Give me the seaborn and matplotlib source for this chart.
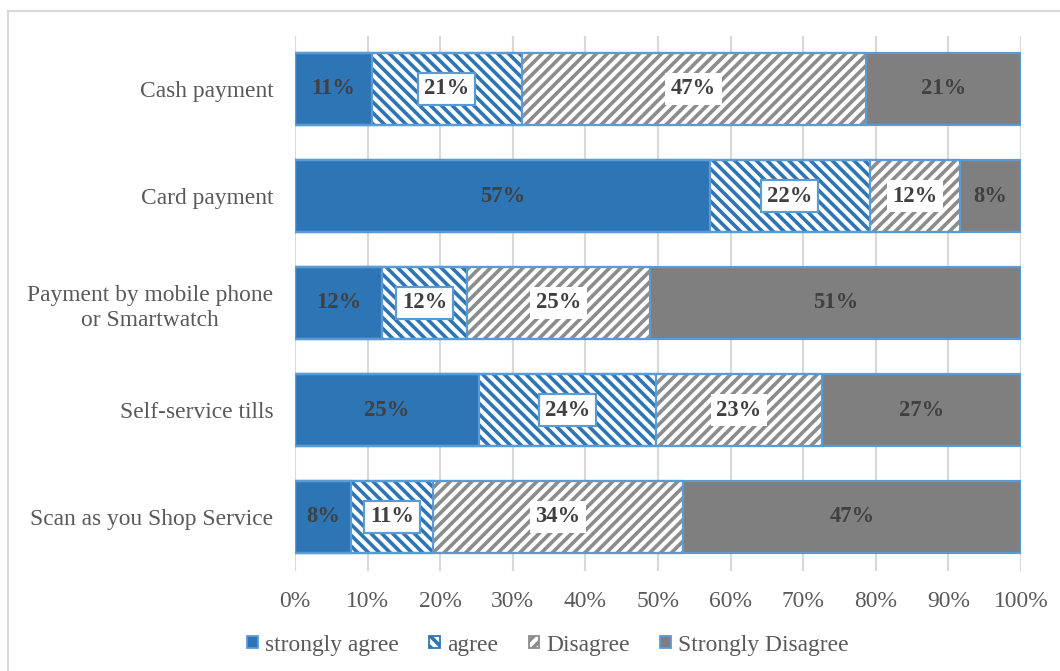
import numpy as np
import matplotlib
matplotlib.use("Agg")
import matplotlib.pyplot as plt
from matplotlib.patches import Patch, Rectangle
import seaborn as sns

categories = ["Cash payment", "Card payment", "Payment by mobile phone\nor Smartwatch",
              "Self-service tills", "Scan as you Shop Service"]
segments = ["strongly agree", "agree", "Disagree", "Strongly Disagree"]
strongly_agree = [10.6, 57.1, 12.0, 25.3, 7.7]
agree = [20.6, 22.1, 11.7, 24.4, 11.3]
disagree = [47.4, 12.4, 25.2, 22.9, 34.4]
strongly_disagree = [21.4, 8.4, 51.1, 27.4, 46.6]
x_ticks = [0, 10, 20, 30, 40, 50, 60, 70, 80, 90, 100]

# styling per segment: face, hatch, hatch color, label box edge
styles = [
    dict(face="#2E75B6", hatch=None, hc="#2E75B6", box=None),
    dict(face="white", hatch="\\\\\\\\", hc="#2E75B6", box="#5B9BD5"),
    dict(face="white", hatch="////", hc="#8C8C8C", box="none"),
    dict(face="#7F7F7F", hatch=None, hc="#7F7F7F", box=None),
]

sns.set_style("white")
plt.rcParams["font.family"] = ["Liberation Serif", "DejaVu Serif"]
plt.rcParams["hatch.linewidth"] = 2.0

dpi = 130
fig = plt.figure(figsize=(1060 / dpi, 671 / dpi), dpi=dpi)
ax = fig.add_axes([295 / 1060, 1 - 570.5 / 671, (1021 - 295) / 1060, (570.5 - 35.5) / 671])

vals = np.array([strongly_agree, agree, disagree, strongly_disagree]).T
cum = np.cumsum(vals, axis=1)

# draw cumulative bars from widest to narrowest so each covers the previous
for i in reversed(range(len(segments))):
    st = styles[i]
    sns.barplot(x=cum[:, i], y=categories, orient="h", color=st["face"], saturation=1,
                width=0.67, errorbar=None, hatch=st["hatch"], edgecolor=st["hc"],
                linewidth=0, ax=ax, zorder=2)
for i in reversed(range(len(segments))):
    sns.barplot(x=cum[:, i], y=categories, orient="h", color="#5B9BD5", fill=False,
                width=0.67, errorbar=None, linewidth=1.2, ax=ax, zorder=3)

# value labels
for r in range(len(categories)):
    for i in range(len(segments)):
        v = vals[r, i]
        start = cum[r, i] - v
        bbox = None
        if styles[i]["box"] is not None:
            bbox = dict(boxstyle="square,pad=0.25", facecolor="white",
                        edgecolor=styles[i]["box"], linewidth=1.2)
        ax.text(start + v / 2, r, f"{v:.0f}%", ha="center", va="center",
                fontsize=12.5, fontweight="bold", color="#404040", bbox=bbox, zorder=5)

ax.set_xlim(0, 100)
ax.set_xticks(x_ticks)
ax.set_xticklabels([f"{t}%" for t in x_ticks])
ax.set_xlabel("")
ax.set_ylabel("")
ax.grid(axis="x", color="#D9D9D9", linewidth=1.2, zorder=0)
ax.set_axisbelow(True)
for s in ax.spines.values():
    s.set_visible(False)
ax.tick_params(axis="both", length=0, labelsize=13, labelcolor="#595959")
ax.tick_params(axis="y", pad=12)
ax.tick_params(axis="x", pad=11.5)
for lbl in ax.get_yticklabels():
    lbl.set_multialignment("center")
    lbl.set_linespacing(1.3)

handles = []
for i, name in enumerate(segments):
    st = styles[i]
    handles.append(Patch(facecolor=st["face"], hatch=st["hatch"],
                         edgecolor=st["hc"] if st["hatch"] else "#5B9BD5",
                         linewidth=1.0, label=name))
fig.legend(handles=handles, loc="center", bbox_to_anchor=(548 / 1060, 1 - 645 / 671),
           ncol=4, frameon=False, fontsize=13, labelcolor="#595959",
           handlelength=0.45, handleheight=0.45, handletextpad=0.3, columnspacing=1.3)

fig.add_artist(Rectangle((8 / 1060, -0.1), 1.2, 1 - 11 / 671 + 0.1, transform=fig.transFigure,
                         fill=False, edgecolor="#D9D9D9", linewidth=1.2))

fig.savefig("out.png", dpi=dpi)
